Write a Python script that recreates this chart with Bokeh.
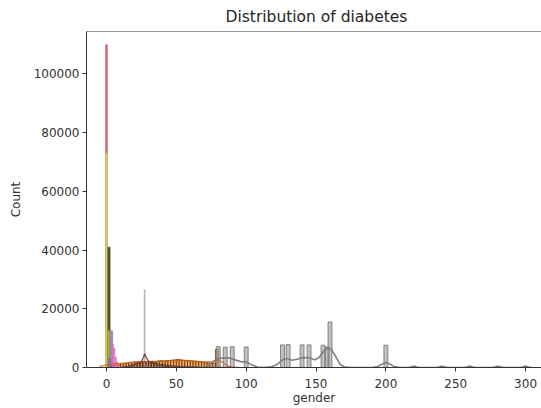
from bokeh.plotting import figure
from bokeh.models import Range1d, FixedTicker, NumeralTickFormatter, Span
from bokeh.embed import file_html
from bokeh.resources import INLINE

# ---------------- data ----------------
x_ticks = [0, 50, 100, 150, 200, 250, 300]
y_ticks = [0, 20000, 40000, 60000, 80000, 100000]

# spike near 0
heart_x = [0.0]
heart_n = [110000]
diab_x = [0.0]
diab_n = [73000]
gender_x = [1.8]
gender_n = [41000]
hyper_x = [1.8]
hyper_n = [12500]
smoke_x = [2.2, 3.7]
smoke_n = [3000, 12500]
hba1c_x = [4.6, 5.6, 6.6, 7.6, 8.6]
hba1c_n = [8000, 6500, 3500, 2000, 1000]

# age (orange)
age_x = [3, 5, 7, 9, 11, 13, 15, 17, 19, 21, 23, 25, 27, 29, 31, 33, 35, 37, 39,
         41, 43, 45, 47, 49, 51, 53, 55, 57, 59, 61, 63, 65, 67, 69, 71, 73, 75, 77, 79]
age_n = [800, 850, 900, 900, 1200, 1300, 1500, 1700, 1800, 1900, 2000, 1900, 2100,
         1900, 2000, 2100, 2000, 2200, 2300, 2200, 2300, 2400, 2500, 2600, 2700, 2600,
         2500, 2400, 2300, 2200, 2100, 2000, 1900, 1800, 1700, 1600, 1500, 1400, 6200]
age_kde_x = [-5, 0, 5, 10, 15, 20, 30, 40, 50, 60, 70, 75, 79, 83, 87, 90]
age_kde_y = [300, 900, 1200, 1400, 1600, 1800, 2000, 2200, 2400, 2300, 1900, 1900, 2600, 1800, 500, 100]

# bmi (brown)
bmi_x = [13, 15, 17, 19, 21, 23, 25, 27, 29, 31, 33, 35, 37, 39, 41, 43, 45, 47, 49, 51, 53, 55, 57]
bmi_n = [150, 350, 700, 1000, 1300, 1500, 1600, 1700, 1600, 1500, 1300, 1100, 900, 700,
         550, 400, 300, 200, 150, 100, 80, 60, 50]
bmi_spike_x = [27.3]
bmi_spike_n = [26500]
bmi_kde_x = [10, 15, 20, 23, 25, 26.5, 27.3, 28.3, 30, 33, 38, 45, 55, 65, 80, 95]
bmi_kde_y = [0, 300, 1000, 1500, 2000, 3500, 4700, 3500, 2200, 1700, 1100, 600, 250, 100, 30, 0]

# blood glucose (gray)
gluc_x = [80, 85, 90, 100, 126, 130, 140, 145, 155, 158, 160, 200, 220, 240, 260, 280, 300]
gluc_n = [7100, 6900, 7100, 7000, 7700, 7800, 7700, 7700, 7600, 7000, 15500, 7600,
          500, 500, 500, 500, 500]
gluc_kde_x = [72, 76, 80, 84, 88, 92, 96, 100, 104, 108, 112, 118, 122, 126, 129, 133,
              137, 141, 145, 149, 152, 155, 158, 161, 164, 167, 170, 174, 190, 194, 197,
              200, 203, 206, 210, 216, 220, 224, 236, 240, 244, 256, 260, 264, 276, 280,
              284, 296, 300, 304]
gluc_kde_y = [500, 1800, 3000, 3300, 3200, 2600, 2000, 1900, 900, 150, 0, 200, 1000, 2600,
              3100, 2500, 2900, 3400, 3300, 2600, 3300, 5200, 6700, 6200, 3800, 1200, 200,
              0, 0, 300, 1100, 1700, 1100, 300, 0, 0, 300, 0, 0, 300, 0, 0, 300, 0, 0, 300,
              0, 0, 300, 0]

X_START, X_END = -14.32, 311.4
Y_END = 114480

# ---------------- figure ----------------
FONT = "DejaVu Sans"
p = figure(width=541, height=408, output_backend="svg", toolbar_location=None,
           x_range=Range1d(X_START, X_END), y_range=Range1d(0, Y_END),
           min_border_left=86, min_border_right=0, min_border_top=31, min_border_bottom=41,
           title="Distribution of diabetes")
p.background_fill_color = "white"
p.border_fill_color = "white"
p.outline_line_color = None
p.xgrid.visible = False
p.ygrid.visible = False

p.title.text_font = FONT
p.title.text_font_size = "15.5px"
p.title.text_font_style = "normal"
p.title.text_color = "#262626"
p.title.align = "left"
p.title.offset = 139
p.title.standoff = 11


def bars(xs, ns, w, color, line, alpha=0.5, lw=0.7, la=0.9):
    left = [x - w / 2 for x in xs]
    right = [x + w / 2 for x in xs]
    p.quad(left=left, right=right, top=ns, bottom=0, fill_color=color, fill_alpha=alpha,
           line_color=line, line_width=lw, line_alpha=la)


bars(age_x, age_n, 2.0, "#f59a40", "#5a2a00", alpha=0.8, lw=0.8)
bars(bmi_x, bmi_n, 2.0, "#8c564b", "#4a2a22", alpha=0.4)
bars(bmi_spike_x, bmi_spike_n, 0.7, "#8c564b", "#b49a95", alpha=0.4, lw=0.5)
bars(gluc_x, gluc_n, 2.8, "#9a9a9a", "#707070", alpha=0.6, lw=0.9)
bars(heart_x, heart_n, 1.4, "#d76470", "#d76470", alpha=1.0, lw=0.5)
bars(diab_x, diab_n, 1.4, "#d4d060", "#c8c458", alpha=1.0, lw=0.5)
bars(gender_x, gender_n, 1.6, "#4a4a1e", "#3a3a18", alpha=0.95, lw=0.5)
bars(hyper_x, hyper_n, 1.6, "#a8b050", "#9aa848", alpha=0.9, lw=0.5)
bars(smoke_x, smoke_n, 1.4, "#9467bd", "#7a50a0", alpha=0.75, lw=0.5)
bars(hba1c_x, hba1c_n, 1.0, "#e377c2", "#d060b0", alpha=0.75, lw=0.5)

p.line(age_kde_x, age_kde_y, line_color="#c86010", line_width=1.3, line_alpha=0.8)
p.line(bmi_kde_x, bmi_kde_y, line_color="#6b3f36", line_width=1.4, line_alpha=0.9)
p.line(gluc_kde_x, gluc_kde_y, line_color="#7f7f7f", line_width=1.6)

p.add_layout(Span(location=Y_END, dimension="width", line_color="#333333", line_width=1.2))

for ax in (p.xaxis[0], p.yaxis[0]):
    ax.axis_line_color = "#333333"
    ax.major_tick_line_color = "#333333"
    ax.major_tick_in = 0
    ax.major_tick_out = 4
    ax.minor_tick_line_color = None
    ax.major_label_text_font = FONT
    ax.major_label_text_font_size = "12px"
    ax.major_label_text_color = "#333333"
    ax.axis_label_text_font = FONT
    ax.axis_label_text_font_size = "12px"
    ax.axis_label_text_font_style = "normal"
    ax.axis_label_text_color = "#333333"

p.xaxis.ticker = FixedTicker(ticks=x_ticks)
p.yaxis.ticker = FixedTicker(ticks=y_ticks)
p.yaxis.formatter = NumeralTickFormatter(format="0")
p.xaxis.axis_label = "gender"
p.yaxis.axis_label = "Count"
p.xaxis.major_label_standoff = 7
p.xaxis.axis_label_standoff = 0
p.yaxis.major_label_standoff = 3
p.yaxis.axis_label_standoff = 8

open("out.html", "w").write(file_html(p, INLINE))
